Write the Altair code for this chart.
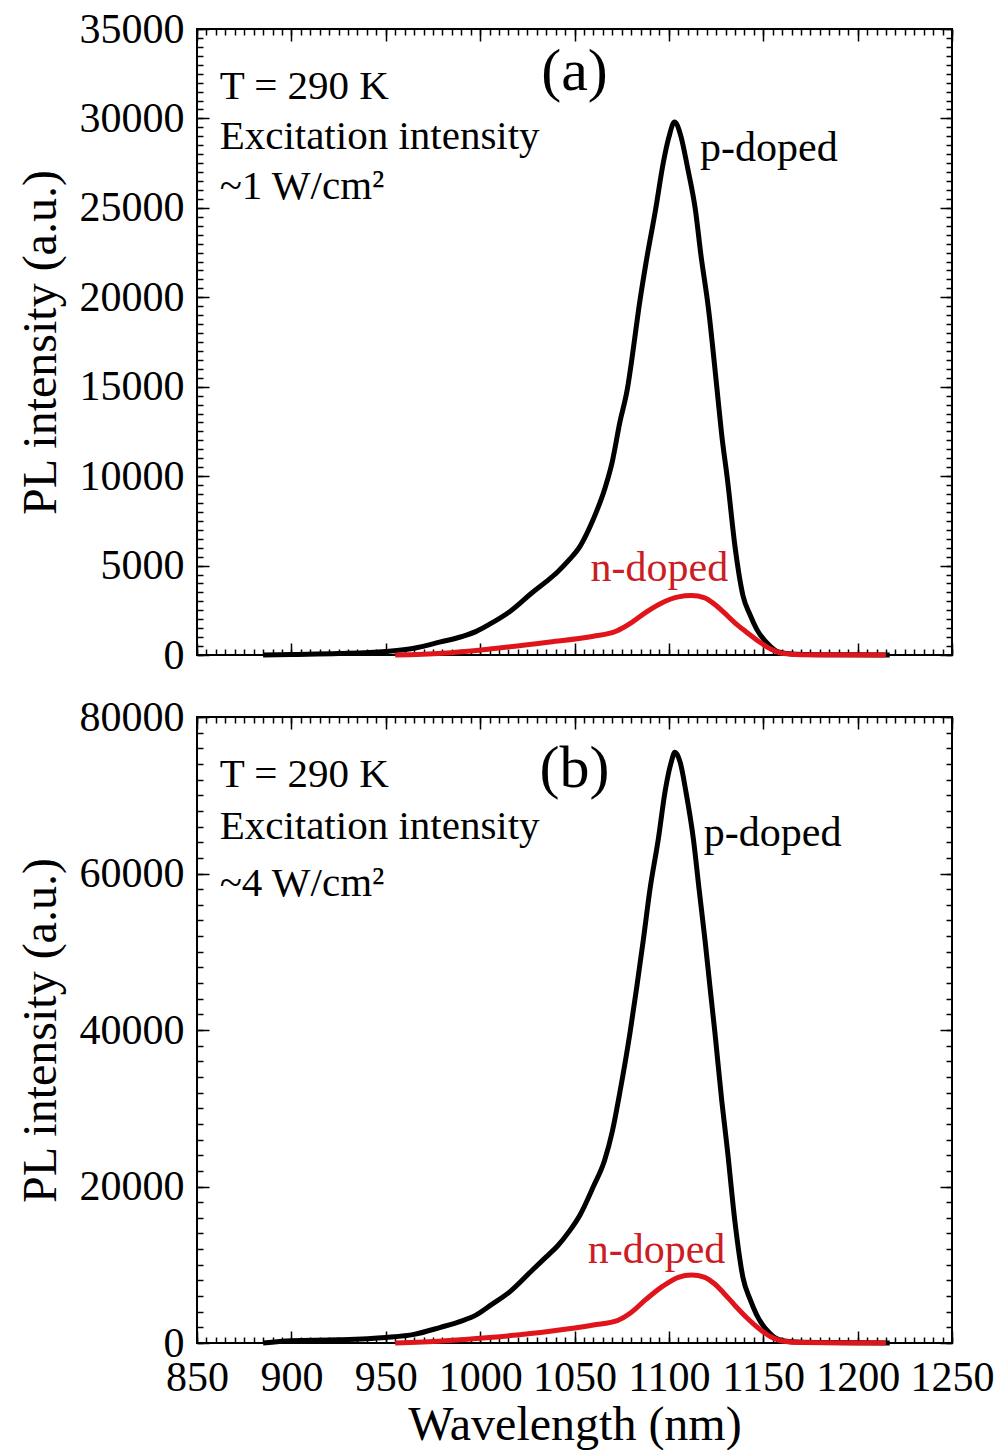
import altair as alt
import pandas as pd

# ---------------- data ----------------
wl_p_a = [885, 900, 925, 950, 965, 979, 990, 998, 1006, 1016, 1028, 1035, 1041, 1047, 1053, 1060,
          1066, 1070, 1074, 1078, 1081, 1084, 1088, 1093, 1097, 1100, 1103, 1106, 1110, 1114, 1117,
          1121, 1125.5, 1128, 1131, 1135, 1139.3, 1143, 1146.5, 1153.6, 1158, 1165, 1180, 1217]
pl_p_a = [0, 30, 80, 200, 380, 730, 1020, 1320, 1780, 2450, 3520, 4100, 4640, 5300, 6090, 7600,
          9280, 10800, 13000, 14870, 17000, 19340, 22000, 24930, 27500, 28950, 29800, 29150, 27200,
          24930, 22350, 19340, 14870, 12300, 9840, 6090, 3300, 2250, 1450, 500, 170, 60, 20, 0]

wl_n_a = [955, 980, 1005, 1037, 1060, 1072, 1080, 1088, 1097, 1105, 1112, 1119, 1124, 1129, 1135,
          1141, 1148, 1154, 1160, 1170, 1215]
pl_n_a = [0, 100, 335, 730, 1050, 1330, 1800, 2400, 2950, 3250, 3320, 3200, 2850, 2400, 1800,
          1290, 730, 335, 100, 20, 0]

wl_p_b = [885, 900, 925, 950, 965, 979, 990, 998, 1006, 1016, 1028, 1035, 1041, 1047, 1053, 1060,
          1066, 1070, 1074, 1079.4, 1083, 1086.5, 1090, 1094.4, 1098, 1101, 1103.2, 1106, 1109,
          1113, 1116, 1119.1, 1122, 1124.4, 1128, 1131, 1135, 1139.3, 1143, 1146.5, 1153.6, 1158,
          1165, 1180, 1217]
pl_p_b = [0, 300, 400, 700, 1100, 2000, 2800, 3600, 4900, 6600, 9400, 11000, 12400, 14200, 16400,
          20000, 23400, 27000, 32000, 39640, 45500, 51580, 58000, 64380, 70500, 74000, 75480, 74200,
          70500, 64380, 58000, 51580, 45000, 39640, 31000, 24700, 15500, 8300, 5600, 3600, 1200,
          450, 150, 60, 0]

wl_n_b = [955, 980, 1005, 1037, 1060, 1073, 1080, 1088, 1097, 1105, 1112, 1119, 1124, 1129, 1135,
          1141, 1148, 1154, 1160, 1170, 1215]
pl_n_b = [0, 250, 700, 1500, 2300, 2900, 3900, 5600, 7300, 8400, 8700, 8400, 7600, 6400, 4800,
          3300, 1800, 800, 250, 50, 0]

series = ["p-doped", "n-doped"]
line_colors = ["#000000", "#e0141b"]
text_colors = ["#000000", "#cc1c24"]

x_major = [850, 900, 950, 1000, 1050, 1100, 1150, 1200, 1250]
x_minor = list(range(850, 1251, 5))
y_major_a = [0, 5000, 10000, 15000, 20000, 25000, 30000, 35000]
y_minor_a = list(range(0, 35001, 500))
y_major_b = [0, 20000, 40000, 60000, 80000]
y_minor_b = list(range(0, 80001, 2000))

# annotations (data units)
ann_a_text = ["T = 290 K", "Excitation intensity", "~1 W/cm²"]
ann_a_x = [862, 862, 862]
ann_a_y = [31100, 28300, 25500]
ann_b_text = ["T = 290 K", "Excitation intensity", "~4 W/cm²"]
ann_b_x = [862, 862, 862]
ann_b_y = [71000, 64400, 57100]
panel_label = ["(a)", "(b)"]
panel_label_x = [1050, 1050]
panel_label_y = [31600, 71100]
p_lab_x = [1116.5, 1118.5]
p_lab_y = [27630, 63530]
n_lab_x = [1058.5, 1057]
n_lab_y = [4150, 10240]

FONT = "Liberation Serif"
W, H = 755, 626


def make_df(wp, pp, wn, pn):
    return pd.concat([
        pd.DataFrame({"wl": wp, "pl": pp, "s": "p-doped"}),
        pd.DataFrame({"wl": wn, "pl": pn, "s": "n-doped"}),
    ], ignore_index=True)


def panel(df, ymax, ymaj, ymin, ann_t, ann_x, ann_y, plab, plx, ply, px, py, nx, ny, show_x):
    xs = alt.Scale(domain=[850, 1250], nice=False, zero=False)
    ys = alt.Scale(domain=[0, ymax], nice=False)
    base = alt.Chart(df)

    def tick_axis(orient, values, size):
        return alt.Axis(orient=orient, values=values, tickSize=size, offset=-size, labels=False,
                        domain=False, grid=False, title=None, tickColor="black", tickWidth=1.5)

    if show_x:
        xlab = alt.Axis(orient="bottom", values=x_major, ticks=False, domain=False, grid=False,
                        labelFont=FONT, labelFontSize=42, labelColor="black", labelPadding=14,
                        labelOverlap=False, labelFlush=False, labelBound=False,
                        title="Wavelength (nm)", titleFont=FONT,
                        titleFontSize=48, titleFontWeight="normal", titleColor="black",
                        titlePadding=3, format="d")
    else:
        xlab = None
    ylab = alt.Axis(orient="left", values=ymaj, ticks=False, domain=False, grid=False,
                    labelFont=FONT, labelFontSize=42, labelColor="black", labelPadding=13,
                    labelFlush=False, labelOverlap=False,
                    title="PL intensity (a.u.)", titleFont=FONT, titleFontSize=48,
                    titleFontWeight="normal", titleColor="black", titlePadding=14, format="d")

    lines = base.mark_line(strokeWidth=5, interpolate="monotone").encode(
        x=alt.X("wl:Q", scale=xs, axis=xlab),
        y=alt.Y("pl:Q", scale=ys, axis=ylab),
        color=alt.Color("s:N", scale=alt.Scale(domain=series, range=line_colors), legend=None),
        detail="s:N",
        order="wl:Q",
    )

    def ghost(xax, yax):
        return base.mark_line(opacity=0).encode(
            x=alt.X("wl:Q", scale=xs, axis=xax),
            y=alt.Y("pl:Q", scale=ys, axis=yax),
            detail="s:N",
        )

    g1 = ghost(tick_axis("bottom", x_major, 12), tick_axis("left", ymaj, 12))
    g2 = ghost(tick_axis("bottom", x_minor, 6), tick_axis("left", ymin, 6))
    g3 = ghost(tick_axis("top", x_major, 12), tick_axis("right", ymaj, 12))
    g4 = ghost(tick_axis("top", x_minor, 6), tick_axis("right", ymin, 6))

    ann_df = pd.DataFrame({"t": ann_t, "x": ann_x, "y": ann_y})
    ann = alt.Chart(ann_df).mark_text(font=FONT, fontSize=41, align="left", baseline="alphabetic",
                                       color="black").encode(
        x=alt.X("x:Q", scale=xs, axis=None), y=alt.Y("y:Q", scale=ys, axis=None), text="t:N")

    plab_df = pd.DataFrame({"t": [plab], "x": [plx], "y": [ply]})
    plab_m = alt.Chart(plab_df).mark_text(font=FONT, fontSize=60, align="center",
                                          baseline="alphabetic", color="black").encode(
        x=alt.X("x:Q", scale=xs, axis=None), y=alt.Y("y:Q", scale=ys, axis=None), text="t:N")

    lab_df = pd.DataFrame({"t": series, "x": [px, nx], "y": [py, ny]})
    lab = alt.Chart(lab_df).mark_text(font=FONT, fontSize=42, align="left",
                                      baseline="alphabetic").encode(
        x=alt.X("x:Q", scale=xs, axis=None), y=alt.Y("y:Q", scale=ys, axis=None), text="t:N",
        color=alt.Color("t:N", scale=alt.Scale(domain=series, range=text_colors), legend=None))

    return alt.layer(lines, g1, g2, g3, g4, ann, plab_m, lab).resolve_axis(
        x="independent", y="independent").resolve_scale(color="independent").properties(
        width=W, height=H)


df_a = make_df(wl_p_a, pl_p_a, wl_n_a, pl_n_a)
df_b = make_df(wl_p_b, pl_p_b, wl_n_b, pl_n_b)

top = panel(df_a, 35000, y_major_a, y_minor_a, ann_a_text, ann_a_x, ann_a_y, panel_label[0],
            panel_label_x[0], panel_label_y[0], p_lab_x[0], p_lab_y[0], n_lab_x[0], n_lab_y[0],
            False)
bottom = panel(df_b, 80000, y_major_b, y_minor_b, ann_b_text, ann_b_x, ann_b_y, panel_label[1],
               panel_label_x[1], panel_label_y[1], p_lab_x[1], p_lab_y[1], n_lab_x[1], n_lab_y[1],
               True)

chart = alt.vconcat(top, bottom, spacing=62, bounds="flush").properties(
    padding={"left": 16, "top": 7, "right": 0, "bottom": 0},
    background="white",
).configure_view(stroke="black", strokeWidth=2).configure_concat(spacing=62)

chart.save("out.html", embed_options={"renderer": "svg", "actions": False})
